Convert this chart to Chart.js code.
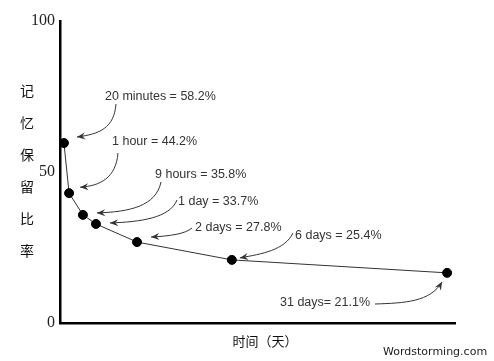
<!DOCTYPE html>
<html>
<head>
<meta charset="utf-8">
<script src="https://cdn.jsdelivr.net/npm/chart.js@4/dist/chart.umd.min.js"></script>
<style>
  body { margin: 0; background: #fff; }
  #wrap { width: 494px; height: 361px; }
</style>
</head>
<body>
<div id="wrap"><canvas id="curveChart" width="494" height="361"></canvas></div>
<script>
// forgetting curve data
const annotationLabels = ['20 minutes = 58.2%', '1 hour = 44.2%', '9 hours = 35.8%', '1 day = 33.7%', '2 days = 27.8%', '6 days = 25.4%', '31 days= 21.1%'];
const timePositions = [1.0, 2.3, 5.8, 9.1, 19.5, 43.5, 98];
const retentionValues = [59.6, 43.0, 35.8, 32.8, 26.8, 20.9, 16.6];
const yTickValues = [0, 50, 100];
const yTitleChars = ['记', '忆', '保', '留', '比', '率'];
const xTitle = '时间（天）';
const watermark = 'Wordstorming.com';

// where each label and its arrow sit (pixels); tip is relative to the point
const arrowLayout = [
    { tx: 105, ty: 97, start: [116, 104], c1: [114, 128], c2: [100, 134], tip: [13, -6] },
    { tx: 112, ty: 142, start: [118, 153], c1: [116, 178], c2: [100, 186], tip: [11, -6] },
    { tx: 155, ty: 175, start: [161, 182], c1: [156, 206], c2: [130, 212], tip: [14, -2] },
    { tx: 178, ty: 202, start: [177, 200], c1: [170, 218], c2: [140, 222], tip: [14, -1] },
    { tx: 195, ty: 228, start: [192, 228], c1: [185, 234], c2: [170, 236], tip: [14, -5] },
    { tx: 295, ty: 236, start: [293, 233], c1: [285, 250], c2: [262, 254], tip: [8, -2] },
    { tx: 280, ty: 303, start: [375, 304], c1: [405, 303], c2: [430, 302], tip: [-5, 9] }
];

function drawArrowHead(ctx, x, y, fromX, fromY) {
    const ang = Math.atan2(y - fromY, x - fromX);
    const len = 9, spread = 0.4;
    ctx.beginPath();
    ctx.moveTo(x, y);
    ctx.lineTo(x - len * Math.cos(ang - spread), y - len * Math.sin(ang - spread));
    ctx.lineTo(x - len * 0.6 * Math.cos(ang), y - len * 0.6 * Math.sin(ang));
    ctx.lineTo(x - len * Math.cos(ang + spread), y - len * Math.sin(ang + spread));
    ctx.closePath();
    ctx.fill();
}

const decorPlugin = {
    id: 'decor',
    afterDraw(chart) {
        const ctx = chart.ctx;
        const xs = chart.scales.x, ys = chart.scales.y;
        ctx.save();

        // y title, stacked vertically
        ctx.fillStyle = '#111';
        ctx.font = '14px "Noto Sans CJK SC"';
        ctx.textAlign = 'center';
        ctx.textBaseline = 'middle';
        yTitleChars.forEach((ch, i) => ctx.fillText(ch, 27, 91 + i * 32));

        // x title
        ctx.font = '13px "Noto Sans CJK SC"';
        ctx.fillText(xTitle, 265, 341);

        // watermark
        ctx.font = '11px "DejaVu Sans"';
        ctx.fillStyle = '#222';
        ctx.textAlign = 'left';
        ctx.fillText(watermark, 383, 352);

        // labels with arrows
        ctx.font = '12.5px "Liberation Sans"';
        ctx.fillStyle = '#333';
        ctx.strokeStyle = '#333';
        ctx.lineWidth = 1;
        annotationLabels.forEach((txt, i) => {
            const a = arrowLayout[i];
            ctx.fillText(txt, a.tx, a.ty);
            const px = xs.getPixelForValue(timePositions[i]);
            const py = ys.getPixelForValue(retentionValues[i]);
            const tipX = px + a.tip[0], tipY = py + a.tip[1];
            ctx.beginPath();
            ctx.moveTo(a.start[0], a.start[1]);
            ctx.bezierCurveTo(a.c1[0], a.c1[1], a.c2[0], a.c2[1], tipX, tipY);
            ctx.stroke();
            drawArrowHead(ctx, tipX, tipY, a.c2[0], a.c2[1]);
        });
        ctx.restore();
    }
};

const ctx = document.getElementById('curveChart').getContext('2d');
const curveChart = new Chart(ctx, {
    type: 'scatter',
    data: {
        datasets: [{
            data: timePositions.map((t, i) => ({ x: t, y: retentionValues[i] })),
            showLine: true,
            borderColor: '#333',
            borderWidth: 1,
            pointRadius: 4.5,
            pointBackgroundColor: '#000',
            pointBorderColor: '#000',
            clip: false
        }]
    },
    options: {
        responsive: false,
        animation: false,
        layout: { padding: { top: 21, right: 39, left: 0, bottom: 0 } },
        plugins: { legend: { display: false }, tooltip: { enabled: false } },
        scales: {
            x: {
                type: 'linear',
                min: 0,
                max: 100,
                grid: { display: false, drawTicks: false },
                border: { display: true, color: '#000', width: 2.5 },
                ticks: { display: false },
                afterFit(scale) { scale.height = 38; }
            },
            y: {
                min: 0,
                max: 100,
                grid: { display: false, drawTicks: false },
                border: { display: true, color: '#000', width: 2.5 },
                afterBuildTicks(scale) { scale.ticks = yTickValues.map(v => ({ value: v })); },
                ticks: {
                    color: '#222',
                    padding: 5,
                    font: { family: '"Liberation Serif"', size: 16 }
                },
                afterFit(scale) { scale.width = 60; }
            }
        }
    },
    plugins: [decorPlugin]
});
</script>
</body>
</html>
